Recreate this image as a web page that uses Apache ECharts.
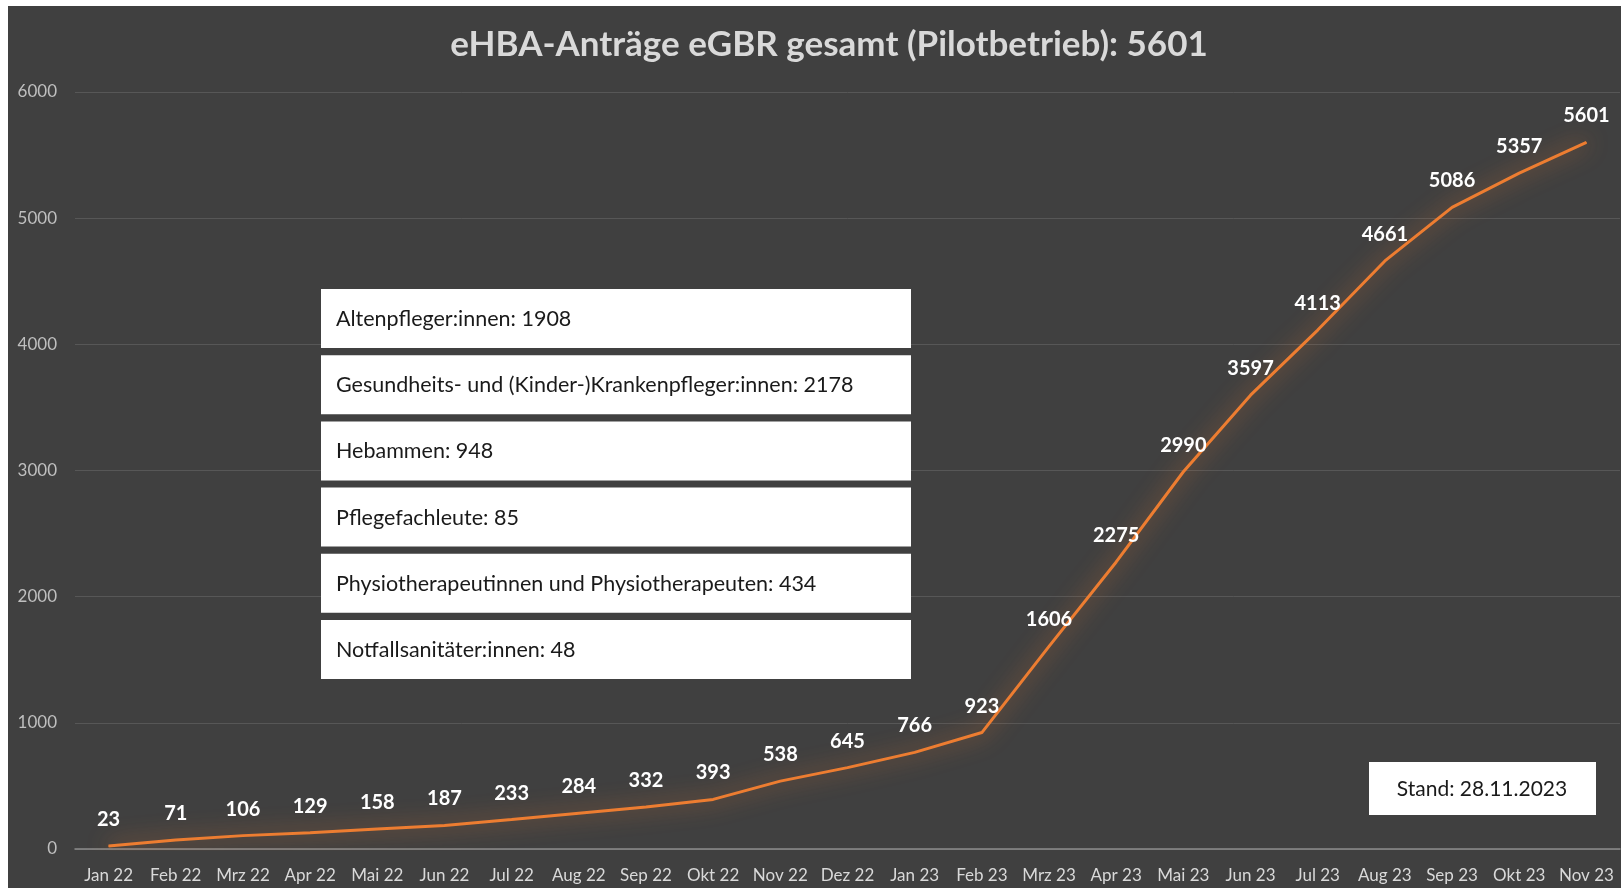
<!DOCTYPE html>
<html lang="de">

<head>
    <meta charset="UTF-8">
    <title>eHBA-Anträge eGBR</title>
    <style>
        html,
        body {
            margin: 0;
            padding: 0;
            background: #ffffff;
        }

        .mychart {
            position: absolute;
            left: 8px;
            top: 6px;
            width: 1613px;
            height: 882px;
        }
    </style>
</head>

<body>
    <div class="mychart"></div>
</body>
<script src="https://cdn.jsdelivr.net/npm/echarts@6/dist/echarts.min.js"></script>
<script>
    // Monate
    const months = ['Jan 22', 'Feb 22', 'Mrz 22', 'Apr 22', 'Mai 22', 'Jun 22', 'Jul 22', 'Aug 22', 'Sep 22', 'Okt 22', 'Nov 22', 'Dez 22',
        'Jan 23', 'Feb 23', 'Mrz 23', 'Apr 23', 'Mai 23', 'Jun 23', 'Jul 23', 'Aug 23', 'Sep 23', 'Okt 23', 'Nov 23'
    ]
    // kumulierte Anträge
    const antraege = [23, 71, 106, 129, 158, 187, 233, 284, 332, 393, 538, 645, 766, 923,
        1606, 2275, 2990, 3597, 4113, 4661, 5086, 5357, 5601
    ]
    // Aufteilung nach Berufsgruppe
    const berufe = ['Altenpfleger:innen', 'Gesundheits- und (Kinder-)Krankenpfleger:innen', 'Hebammen',
        'Pflegefachleute', 'Physiotherapeutinnen und Physiotherapeuten', 'Notfallsanitäter:innen'
    ]
    const berufeWerte = [1908, 2178, 948, 85, 434, 48]
    const yTicks = [0, 1000, 2000, 3000, 4000, 5000, 6000]
    const stand = '28.11.2023'

    const font = 'Lato, "Open Sans", sans-serif'
    const myChart = echarts.init(document.querySelector('.mychart'))

    // Kästen mit den Berufsgruppen
    const boxes = []
    berufe.forEach((name, i) => {
        boxes.push({
            type: 'group',
            left: 313,
            top: 283 + i * 66.2,
            z: 100,
            children: [{
                type: 'rect',
                z: 100,
                shape: { x: 0, y: 0, width: 590, height: 59 },
                style: { fill: '#ffffff' }
            }, {
                type: 'text',
                z: 101,
                x: 15,
                y: 30,
                style: {
                    text: name + ': ' + berufeWerte[i],
                    fill: '#1a1a1a',
                    font: '21.5px ' + font,
                    verticalAlign: 'middle'
                }
            }]
        })
    })
    boxes.push({
        type: 'group',
        left: 1361,
        top: 756,
        z: 100,
        children: [{
            type: 'rect',
            z: 100,
            shape: { x: 0, y: 0, width: 227, height: 53 },
            style: { fill: '#ffffff' }
        }, {
            type: 'text',
            z: 101,
            x: 113,
            y: 27,
            style: {
                text: 'Stand: ' + stand,
                fill: '#1a1a1a',
                font: '21px ' + font,
                align: 'center',
                verticalAlign: 'middle'
            }
        }]
    })

    const config = {
        backgroundColor: '#404040',
        title: {
            text: 'eHBA-Anträge eGBR gesamt (Pilotbetrieb): ' + antraege[antraege.length - 1],
            left: 816,
            textAlign: 'center',
            top: 16,
            textStyle: {
                color: '#d9d9d9',
                fontFamily: font,
                fontWeight: 'bold',
                fontSize: 35
            }
        },
        grid: {
            left: 67,
            right: 1,
            top: 86,
            bottom: 39
        },
        xAxis: {
            type: 'category',
            data: months,
            boundaryGap: true,
            axisLine: { lineStyle: { color: '#8c8c8c', width: 1.5 } },
            axisTick: { inside: true, length: 6, lineStyle: { color: '#8c8c8c' } },
            axisLabel: {
                color: '#d9d9d9',
                fontFamily: font,
                fontSize: 17,
                margin: 18,
                interval: 0
            }
        },
        yAxis: {
            type: 'value',
            min: yTicks[0],
            max: yTicks[yTicks.length - 1],
            interval: 1000,
            axisLine: { show: false },
            axisTick: { show: false },
            axisLabel: {
                color: '#bfbfbf',
                fontFamily: font,
                fontSize: 17,
                margin: 18,
                formatter: v => String(v)
            },
            splitLine: { lineStyle: { color: '#575757', width: 1 } }
        },
        series: [{
            type: 'line',
            data: antraege,
            symbol: 'circle',
            symbolSize: 1,
            itemStyle: { color: '#ed7d31' },
            lineStyle: {
                color: '#ed7d31',
                width: 3,
                shadowBlur: 22,
                shadowColor: 'rgba(237,125,49,0.85)'
            },
            label: {
                show: true,
                position: 'top',
                distance: 16,
                color: '#ffffff',
                fontFamily: font,
                fontWeight: 'bold',
                fontSize: 20
            },
            animation: false
        }],
        graphic: boxes
    }
    myChart.setOption(config)
</script>

</html>
